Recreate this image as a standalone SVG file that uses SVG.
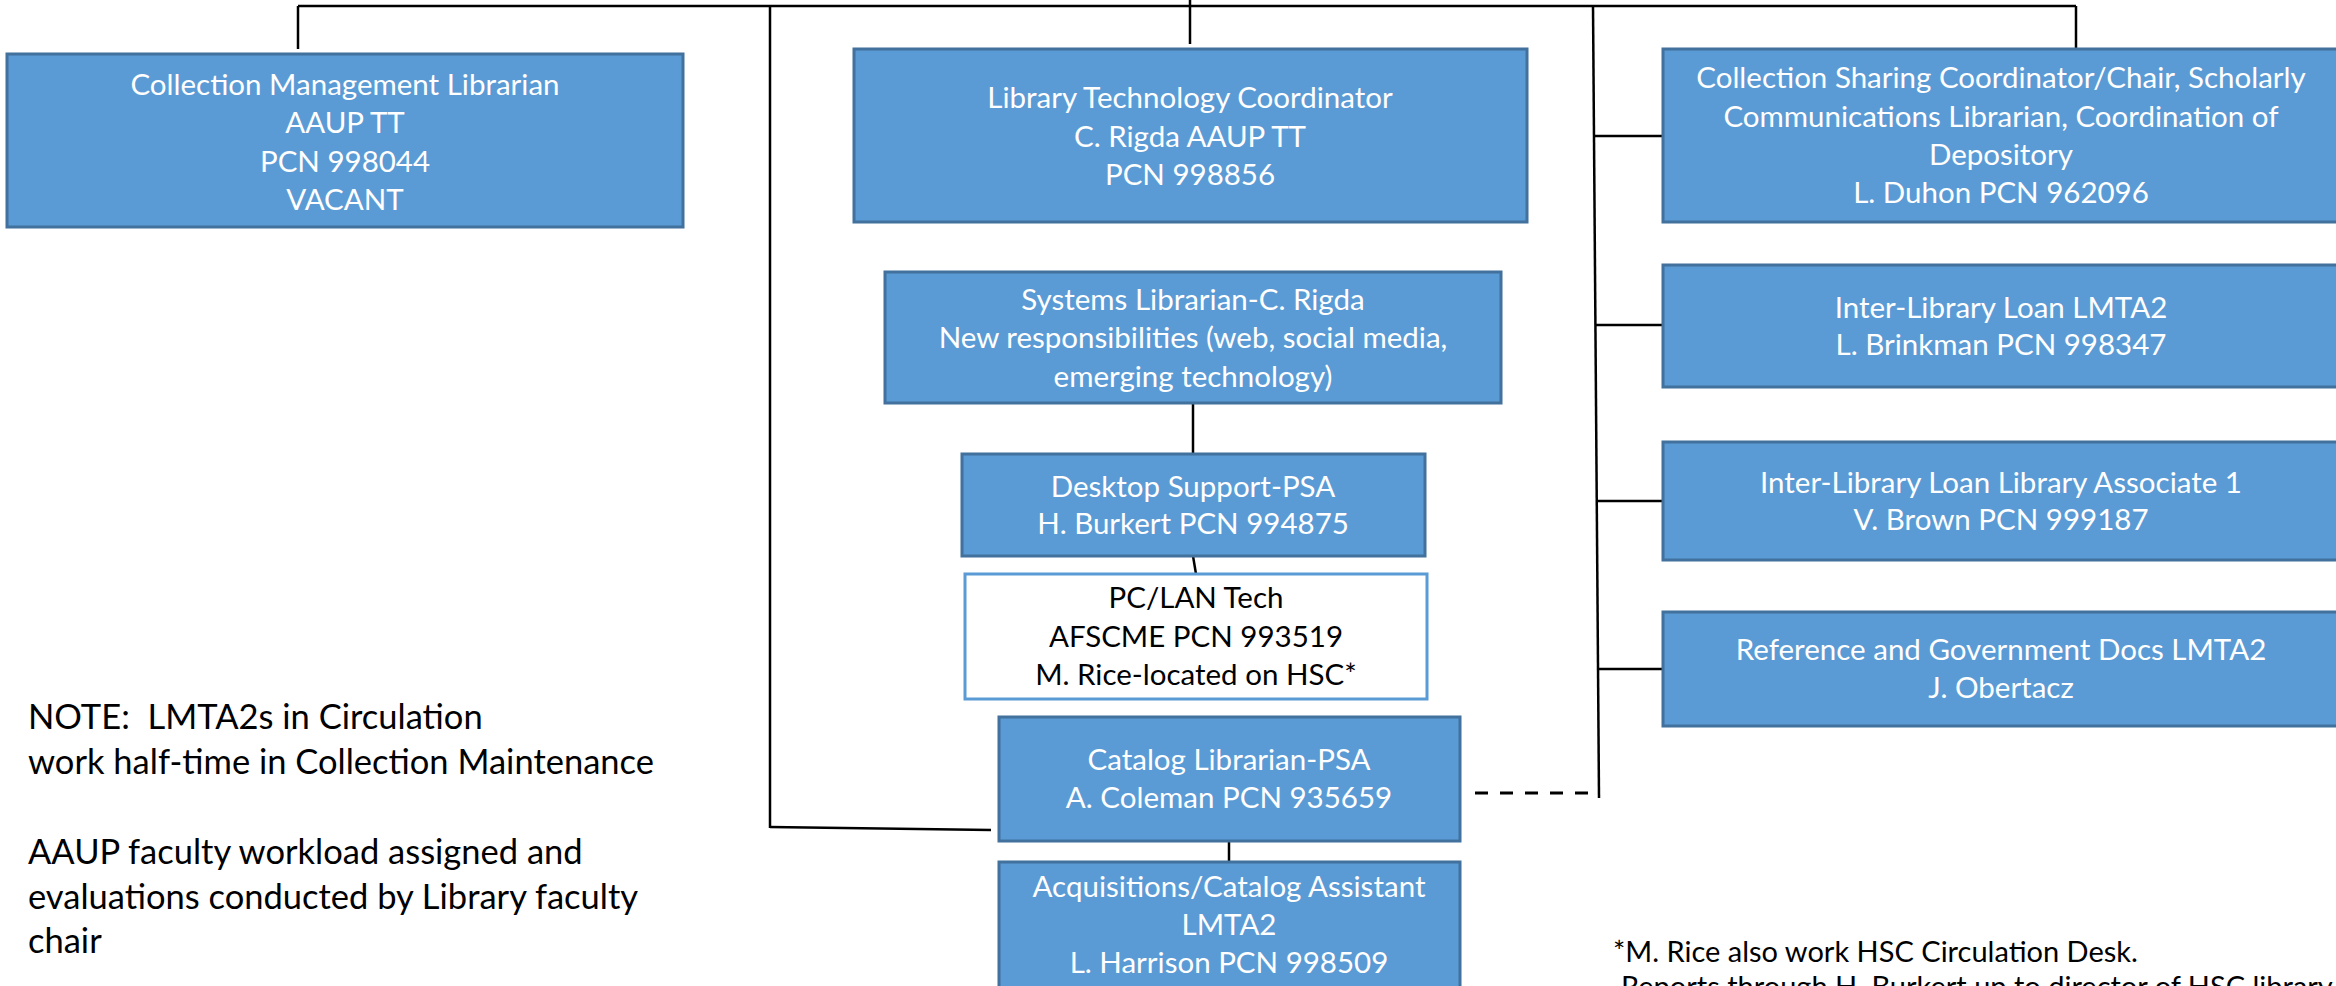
<svg xmlns="http://www.w3.org/2000/svg" width="2336" height="986" viewBox="0 0 2336 986">
<style>
.box{fill:#5B9BD5;stroke:#41719C;stroke-width:3}
.wbox{fill:#FFFFFF;stroke:#5B9BD5;stroke-width:3}
.t{font-family:Lato,"Liberation Sans",sans-serif;font-size:29.5px;fill:#FFFFFF;text-anchor:middle}
.tb{font-family:Lato,"Liberation Sans",sans-serif;font-size:29.5px;fill:#000000;text-anchor:middle}
.note{font-family:Lato,"Liberation Sans",sans-serif;font-size:34.5px;fill:#000000;white-space:pre}
.fn{font-family:Lato,"Liberation Sans",sans-serif;font-size:29px;fill:#000000}
.ln{fill:none;stroke:#000000;stroke-width:2.5}
.dash{fill:none;stroke:#000000;stroke-width:3;stroke-dasharray:13 12}
</style>
<rect width="2336" height="986" fill="#FFFFFF"/>
<g id="connectors">
<path class="ln" d="M298,6 H2076"/>
<path class="ln" d="M1190,0 V44"/>
<path class="ln" d="M298,6 V49"/>
<path class="ln" d="M2076,6 V49"/>
<path class="ln" d="M770,6 V828"/>
<path class="ln" d="M770,827 L991,830"/>
<path class="ln" d="M1593,6 L1599,798"/>
<path class="ln" d="M1594,136 H1663"/>
<path class="ln" d="M1596,325 H1663"/>
<path class="ln" d="M1597,501 H1663"/>
<path class="ln" d="M1599,669 H1663"/>
<path class="ln" d="M1193,403 V454"/>
<path class="ln" d="M1193,556 L1196,574"/>
<path class="ln" d="M1229,841 V862"/>
<path class="dash" d="M1475,793 H1591"/>
</g>
<g id="collection-management">
<rect class="box" x="7" y="54" width="676" height="173"/>
<text class="t" x="345" y="95">Collection Management Librarian</text>
<text class="t" x="345" y="133">AAUP TT</text>
<text class="t" x="345" y="172">PCN 998044</text>
<text class="t" x="345" y="210">VACANT</text>
</g>
<g id="library-technology">
<rect class="box" x="854" y="49" width="673" height="173"/>
<text class="t" x="1190" y="108">Library Technology Coordinator</text>
<text class="t" x="1190" y="147">C. Rigda AAUP TT</text>
<text class="t" x="1190" y="185">PCN 998856</text>
</g>
<g id="systems-librarian">
<rect class="box" x="885" y="272" width="616" height="131"/>
<text class="t" x="1193" y="310">Systems Librarian-C. Rigda</text>
<text class="t" x="1193" y="348">New responsibilities (web, social media,</text>
<text class="t" x="1193" y="387">emerging technology)</text>
</g>
<g id="desktop-support">
<rect class="box" x="962" y="454" width="463" height="102"/>
<text class="t" x="1193" y="497">Desktop Support-PSA</text>
<text class="t" x="1193" y="534">H. Burkert PCN 994875</text>
</g>
<g id="pc-lan-tech">
<rect class="wbox" x="965" y="574" width="462" height="125"/>
<text class="tb" x="1196" y="608">PC/LAN Tech</text>
<text class="tb" x="1196" y="647">AFSCME PCN 993519</text>
<text class="tb" x="1196" y="685">M. Rice-located on HSC*</text>
</g>
<g id="catalog-librarian">
<rect class="box" x="999" y="717" width="461" height="124"/>
<text class="t" x="1229" y="770">Catalog Librarian-PSA</text>
<text class="t" x="1229" y="808">A. Coleman PCN 935659</text>
</g>
<g id="acquisitions">
<rect class="box" x="999" y="862" width="461" height="130"/>
<text class="t" x="1229" y="897">Acquisitions/Catalog Assistant</text>
<text class="t" x="1229" y="935">LMTA2</text>
<text class="t" x="1229" y="973">L. Harrison PCN 998509</text>
</g>
<g id="collection-sharing">
<rect class="box" x="1663" y="49" width="680" height="173"/>
<text class="t" x="2001" y="88">Collection Sharing Coordinator/Chair, Scholarly</text>
<text class="t" x="2001" y="127">Communications Librarian, Coordination of</text>
<text class="t" x="2001" y="165">Depository</text>
<text class="t" x="2001" y="203">L. Duhon PCN 962096</text>
</g>
<g id="ill-lmta2">
<rect class="box" x="1663" y="265" width="680" height="122"/>
<text class="t" x="2001" y="318">Inter-Library Loan LMTA2</text>
<text class="t" x="2001" y="355">L. Brinkman PCN 998347</text>
</g>
<g id="ill-associate">
<rect class="box" x="1663" y="442" width="680" height="118"/>
<text class="t" x="2001" y="493">Inter-Library Loan Library Associate 1</text>
<text class="t" x="2001" y="530">V. Brown PCN 999187</text>
</g>
<g id="reference-docs">
<rect class="box" x="1663" y="612" width="680" height="114"/>
<text class="t" x="2001" y="660">Reference and Government Docs LMTA2</text>
<text class="t" x="2001" y="698">J. Obertacz</text>
</g>
<g id="notes">
<text class="note" x="28" y="729" xml:space="preserve">NOTE:  LMTA2s in Circulation</text>
<text class="note" x="28" y="774">work half-time in Collection Maintenance</text>
<text class="note" x="28" y="864">AAUP faculty workload assigned and</text>
<text class="note" x="28" y="909">evaluations conducted by Library faculty</text>
<text class="note" x="28" y="953">chair</text>
<text class="fn" x="1613" y="962">*M. Rice also work HSC Circulation Desk.</text>
<text class="fn" x="1621" y="997">Reports through H. Burkert up to director of HSC library</text>
</g>
</svg>
